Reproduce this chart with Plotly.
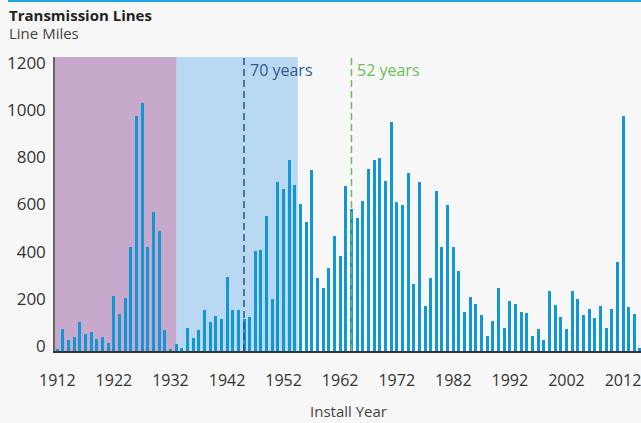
import plotly.graph_objects as go

years = list(range(1912, 2016))
miles = [
    8, 93, 47, 59, 123, 72, 81, 52, 61, 35,          # 1912-1921
    235, 155, 226, 442, 998, 1050, 442, 589, 510, 89,  # 1922-1931
    8, 30, 14, 99, 54, 90, 172, 124, 148, 136,        # 1932-1941
    314, 172, 172, 137, 143, 423, 428, 573, 222, 717, # 1942-1951
    686, 809, 704, 622, 548, 766, 310, 269, 352, 486, # 1952-1961
    404, 700, 604, 564, 636, 772, 810, 818, 721, 973, # 1962-1971
    633, 621, 756, 284, 715, 189, 308, 677, 442, 621, # 1972-1981
    442, 338, 167, 228, 199, 153, 64, 126, 267, 99,   # 1982-1991
    212, 199, 167, 161, 64, 93, 48, 253, 195, 146,    # 1992-2001
    93, 253, 221, 153, 180, 141, 189, 99, 180, 376,   # 2002-2011
    995, 187, 157, 13,                                # 2012-2015
]
tick_years = list(range(1912, 2013, 10))
y_ticks = [0, 200, 400, 600, 800, 1000, 1200]

band_purple = (1911.59, 1933.1)
band_blue = (1933.1, 1954.5)
marker_70 = 1945
marker_52 = 1964

FONT = "Open Sans"
BAR = "#1296d6"

fig = go.Figure()
fig.add_trace(go.Bar(
    x=years, y=miles, width=0.53,
    marker=dict(color=BAR, line=dict(width=0)),
    hoverinfo="x+y",
))

shapes = [
    dict(type="rect", xref="x", yref="paper", x0=band_purple[0], x1=band_purple[1],
         y0=0, y1=1, fillcolor="#c7a9cb", line=dict(width=0), layer="below"),
    dict(type="rect", xref="x", yref="paper", x0=band_blue[0], x1=band_blue[1],
         y0=0, y1=1, fillcolor="#b9d8f1", line=dict(width=0), layer="below"),
    dict(type="line", xref="x", yref="paper", x0=marker_70, x1=marker_70, y0=0, y1=1,
         line=dict(color="#1f5488", width=1.5, dash="7px,4px")),
    dict(type="line", xref="x", yref="paper", x0=marker_52, x1=marker_52, y0=0, y1=1,
         line=dict(color="#6cbd5a", width=1.5, dash="7px,4px")),
    dict(type="line", xref="paper", yref="paper", x0=-0.0802, x1=1.0, y0=1.1905, y1=1.1905,
         line=dict(color="#1aa3e0", width=2)),
]

annotations = [
    dict(text="<b>Transmission Lines</b>", xref="paper", yref="paper", x=-0.0802, y=1.142,
         xanchor="left", yanchor="middle", showarrow=False, borderpad=0,
         font=dict(family=FONT, size=15, color="#222")),
    dict(text="Line Miles", xref="paper", yref="paper", x=-0.0802, y=1.083,
         xanchor="left", yanchor="middle", showarrow=False, borderpad=0,
         font=dict(family=FONT, size=15, color="#444")),
    dict(text="70 years", xref="x", yref="paper", x=marker_70, y=1, xshift=4,
         xanchor="left", yanchor="top", showarrow=False,
         font=dict(family=FONT, size=16, color="#2c5d8c")),
    dict(text="52 years", xref="x", yref="paper", x=marker_52, y=1, xshift=4,
         xanchor="left", yanchor="top", showarrow=False,
         font=dict(family=FONT, size=16, color="#6cbd5a")),
    dict(text="Install Year", xref="paper", yref="paper", x=0.5, y=-0.204,
         xanchor="center", yanchor="middle", showarrow=False,
         font=dict(family=FONT, size=15, color="#444")),
]

fig.update_layout(
    width=641, height=423,
    margin=dict(l=55, r=0, t=57, b=72, autoexpand=False),
    paper_bgcolor="#f7f7f7", plot_bgcolor="#f7f7f7",
    showlegend=False,
    shapes=shapes, annotations=annotations,
    font=dict(family=FONT, color="#333"),
    xaxis=dict(range=[1911.59, 2015.18], tickvals=tick_years, ticks="",
               showgrid=False, zeroline=False, showline=True, linecolor="#333",
               linewidth=2, tickfont=dict(family=FONT, size=16, color="#333"),
               ticklabelstandoff=14, ticklabeloverflow="allow"),
    yaxis=dict(range=[0, 1246.8], tickvals=y_ticks, ticks="", showgrid=False,
               zeroline=False, showline=True, linecolor="#666", linewidth=1.5,
               tickfont=dict(family=FONT, size=17, color="#333"),
               ticklabelshift=-5, ticklabelstandoff=4),
    bargap=0,
)

fig.write_html(
    "out.html",
    config={"displayModeBar": False},
    post_script="document.body.style.margin='0';document.body.style.background='#f7f7f7';",
)
